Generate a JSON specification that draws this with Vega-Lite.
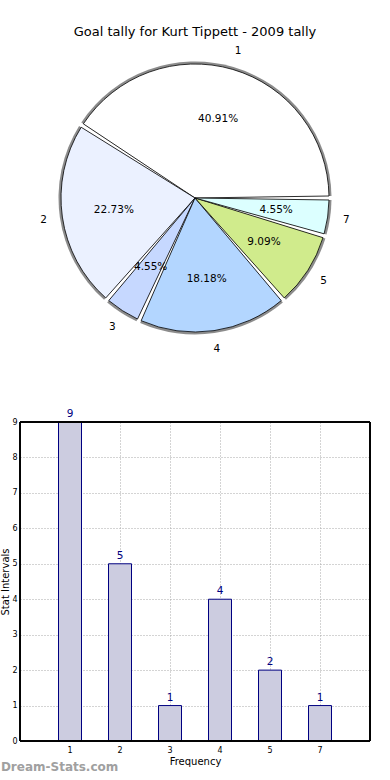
{
  "$schema": "https://vega.github.io/schema/vega-lite/v6.json",
  "padding": {"top": 26, "left": 0, "right": 0, "bottom": 0},
  "background": "white",
  "config": {
    "font": "DejaVu Sans",
    "view": {"stroke": null},
    "concat": {"spacing": 54}
  },
  "datasets": {
    "tally": [
      {"cat": "1", "count": 9, "pct": "40.91%"},
      {"cat": "2", "count": 5, "pct": "22.73%"},
      {"cat": "3", "count": 1, "pct": "4.55%"},
      {"cat": "4", "count": 4, "pct": "18.18%"},
      {"cat": "5", "count": 2, "pct": "9.09%"},
      {"cat": "7", "count": 1, "pct": "4.55%"}
    ]
  },
  "vconcat": [
    {
      "width": 350,
      "height": 314,
      "title": {"text": "Goal tally for Kurt Tippett - 2009 tally", "fontSize": 13, "fontWeight": "normal", "color": "black", "offset": 2},
      "data": {"name": "tally"},
      "encoding": {
        "theta": {"field": "count", "type": "quantitative", "stack": true, "scale": {"range": [1.5708, -4.7124]}},
        "order": {"field": "cat", "sort": "ascending"}
      },
      "layer": [
        {
          "mark": {"type": "arc", "outerRadius": 136.5, "padAngle": 0.03},
          "encoding": {"color": {"value": "#8c8c8c"}}
        },
        {
          "mark": {"type": "arc", "outerRadius": 134, "stroke": "black", "strokeWidth": 0.8, "padAngle": 0.03},
          "encoding": {
            "color": {"field": "cat", "type": "nominal", "legend": null,
              "scale": {"domain": ["1","2","3","4","5","7"], "range": ["#ffffff","#ebf1ff","#c6d8ff","#b3d6ff","#d0eb8c","#dcffff"]}}
          }
        },
        {
          "mark": {"type": "text", "radius": 82, "fontSize": 10.5, "color": "black"},
          "encoding": {"text": {"field": "pct"}}
        },
        {
          "mark": {"type": "text", "radius": 153, "fontSize": 10.5, "color": "black"},
          "encoding": {"text": {"field": "cat"}}
        }
      ]
    },
    {
      "width": 350,
      "height": 319,
      "data": {"name": "tally"},
      "title": {"text": "Dream-Stats.com", "orient": "bottom", "anchor": "start", "frame": "bounds", "fontSize": 12, "fontWeight": "bold", "color": "#a0a0a0", "offset": -4},
      "encoding": {
        "x": {"field": "cat", "type": "ordinal", "title": "Frequency",
          "scale": {"paddingInner": 0, "paddingOuter": 0.5},
          "axis": {"labelAngle": 0, "labelFontSize": 8, "labelColor": "black", "titleFontSize": 10, "titleFontWeight": "normal", "titleColor": "black", "titlePadding": 2, "labelPadding": 5, "ticks": false, "domain": false, "grid": true, "gridDash": [1, 2], "gridColor": "#a8a8a8", "bandPosition": 0.5}},
        "y": {"field": "count", "type": "quantitative", "title": "Stat Intervals",
          "scale": {"domain": [0, 9], "nice": false},
          "axis": {"values": [0,1,2,3,4,5,6,7,8,9], "labelFontSize": 8, "labelColor": "black", "titleFontSize": 10, "titleFontWeight": "normal", "titleColor": "black", "titlePadding": 1, "labelPadding": 3, "ticks": false, "domain": false, "grid": true, "gridDash": [1, 2], "gridColor": "#a8a8a8"}}
      },
      "layer": [
        {
          "mark": {"type": "bar", "width": {"band": 0.46}, "fill": "#ccccE0", "stroke": "#000080", "strokeWidth": 1}
        },
        {
          "mark": {"type": "text", "dy": -8, "fontSize": 10.5, "color": "#000080"},
          "encoding": {"text": {"field": "count"}}
        },
        {
          "mark": {"type": "rect", "fill": null, "stroke": "black", "strokeWidth": 1},
          "encoding": {"x": {"value": 0}, "x2": {"value": 350}, "y": {"value": 0}, "y2": {"value": 319}}
        }
      ]
    }
  ]
}
